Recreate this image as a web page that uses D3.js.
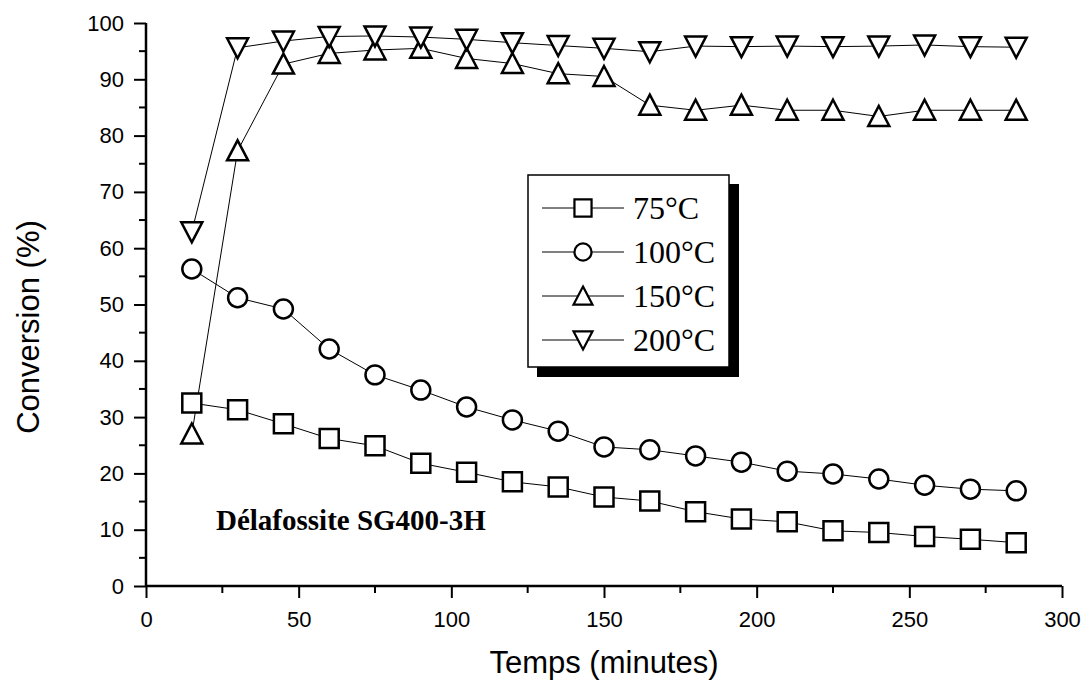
<!DOCTYPE html>
<html><head><meta charset="utf-8">
<script src="https://cdn.jsdelivr.net/npm/d3@7"></script>
<style>body{margin:0;background:#fff}</style>
</head><body>
<script>
const times = [15,30,45,60,75,90,105,120,135,150,165,180,195,210,225,240,255,270,285];
const s75  = [32.5,31.3,28.8,26.2,24.9,21.8,20.2,18.5,17.6,15.8,15.1,13.2,11.9,11.4,9.8,9.5,8.8,8.3,7.7];
const s100 = [56.3,51.2,49.2,42.1,37.5,34.8,31.8,29.5,27.5,24.7,24.2,23.1,22.0,20.4,19.9,19.0,17.9,17.2,16.9];
const s150 = [27.0,77.3,92.7,94.6,95.2,95.5,93.7,92.8,91.0,90.5,85.4,84.5,85.4,84.5,84.5,83.4,84.5,84.5,84.5];
const s200 = [62.9,95.6,96.8,97.6,97.7,97.5,97.1,96.5,96.0,95.5,94.9,95.9,95.8,95.9,95.8,95.9,96.1,95.8,95.7];
const seriesNames = ["75°C","100°C","150°C","200°C"];
const seriesSymbols = ["square","circle","up","down"];
const xTicks = [0,50,100,150,200,250,300];
const yTicks = [0,10,20,30,40,50,60,70,80,90,100];
const annotation = "Délafossite SG400-3H";

const W=1083,H=682;
const svg=d3.select("body").append("svg").attr("width",W).attr("height",H);
const x=d3.scaleLinear().domain([0,300]).range([146,1062]);
const y=d3.scaleLinear().domain([0,100]).range([586,23]);
const sans="Liberation Sans, Arial, sans-serif", serif="Liberation Serif, Times New Roman, serif";

// axes
const xAxis=d3.axisBottom(x).tickValues(xTicks).tickSize(12).tickPadding(13);
const yAxis=d3.axisLeft(y).tickValues(yTicks).tickSize(12).tickPadding(10);
const gx=svg.append("g").attr("transform","translate(0,586)").call(xAxis);
const gy=svg.append("g").attr("transform","translate(146,0)").call(yAxis);
gx.selectAll(".minor").data(d3.range(25,300,50)).enter().append("line")
  .attr("x1",d=>x(d)).attr("x2",d=>x(d)).attr("y1",0).attr("y2",7).attr("stroke","#000").attr("stroke-width",2);
gy.selectAll(".minor").data(d3.range(5,100,10)).enter().append("line")
  .attr("y1",d=>y(d)).attr("y2",d=>y(d)).attr("x1",0).attr("x2",-7).attr("stroke","#000").attr("stroke-width",2);
[gx,gy].forEach(g=>{
  g.select(".domain").attr("stroke","#000").attr("stroke-width",2.5);
  g.selectAll(".tick line").attr("stroke","#000").attr("stroke-width",2);
  g.selectAll("text").attr("font-family",sans).attr("font-size",22).attr("fill","#000");
});
gx.select(".domain").attr("d","M"+x(0)+",0H"+x(300));
gy.select(".domain").attr("d","M0,"+y(0)+"V"+y(100));

svg.append("text").attr("x",604).attr("y",673).attr("text-anchor","middle")
  .attr("font-family",sans).attr("font-size",31).text("Temps (minutes)");
svg.append("text").attr("transform","translate(39,327) rotate(-90)").attr("text-anchor","middle")
  .attr("font-family",sans).attr("font-size",31).text("Conversion (%)");

svg.append("text").attr("x",216).attr("y",530)
  .attr("font-family",serif).attr("font-weight","bold").attr("font-size",29).text(annotation);

function symPath(type){
  if(type==="square") return "M-9.5,-9.5H9.5V9.5H-9.5Z";
  if(type==="circle") return d3.symbol().type(d3.symbolCircle).size(Math.PI*90)();
  if(type==="up") return "M0,-10.5L10.5,9.5H-10.5Z";
  return "M0,10.5L10.5,-9.5H-10.5Z";
}
const all=[s75,s100,s150,s200];
const line=d3.line().x((d,i)=>x(times[i])).y(d=>y(d));
all.forEach(s=>{
  svg.append("path").attr("d",line(s)).attr("fill","none").attr("stroke","#000").attr("stroke-width",1);
});
all.forEach((s,k)=>{
  svg.append("g").selectAll("path").data(s).enter().append("path")
    .attr("transform",(d,i)=>`translate(${x(times[i])},${y(d)})`)
    .attr("d",symPath(seriesSymbols[k])).attr("fill","#fff").attr("stroke","#000").attr("stroke-width",2.5);
});

// legend
const lg=svg.append("g");
lg.append("rect").attr("x",537).attr("y",184).attr("width",202).attr("height",193).attr("fill","#000");
lg.append("rect").attr("x",528).attr("y",175).attr("width",201).attr("height",192).attr("fill","#fff").attr("stroke","#000").attr("stroke-width",1.5);
seriesNames.forEach((n,k)=>{
  const yy=208+k*44;
  lg.append("line").attr("x1",542).attr("x2",624).attr("y1",yy).attr("y2",yy).attr("stroke","#000").attr("stroke-width",1);
  lg.append("path").attr("transform",`translate(583,${yy}) scale(0.9)`).attr("d",symPath(seriesSymbols[k]))
    .attr("fill","#fff").attr("stroke","#000").attr("stroke-width",2.5);
  lg.append("text").attr("x",633).attr("y",yy+11).attr("font-family",serif)
    .attr("font-size",32).text(n);
});
</script>
</body></html>
